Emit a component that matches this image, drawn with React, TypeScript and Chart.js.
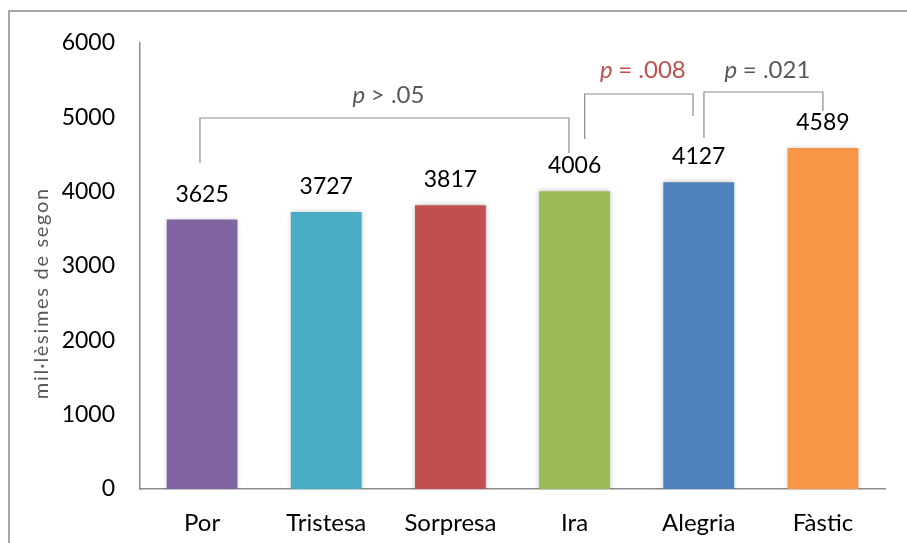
import React, { useEffect, useRef } from "react";
import { Chart, registerables } from "chart.js";

Chart.register(...registerables);

// Mean response time per emotion (milliseconds)
const categories = ["Por", "Tristesa", "Sorpresa", "Ira", "Alegria", "Fàstic"];
const timesMs = [3625, 3727, 3817, 4006, 4127, 4589];
const barColors = ["#8064A2", "#4BACC6", "#C0504D", "#9BBB59", "#4F81BD", "#F79646"];
const yMax = 6000;
const yStep = 1000;

// Pairwise comparison brackets (x in category positions, y in ms)
const bracketLabels = ["> .05", "= .008", "= .021"];
const bracketColors = ["#595959", "#C0504D", "#595959"];
const bracketStart = [-0.017, 3.081, 4.042];
const bracketEnd = [2.955, 3.954, 5.0];
const bracketStartFoot = [4386, 4709, 4722];
const bracketTop = [4991, 5314, 5341];
const bracketEndFoot = [4520, 5018, 5085];
const bracketLabelY = [5300, 5637, 5637];

const yTitle = "mil·lèsimes de segon";

const FONT = "Lato, 'Open Sans', sans-serif";
const AXIS_GREY = "#8c8c8c";

const overlayPlugin = {
  id: "overlay",
  beforeDatasetsDraw(chart: any) {
    const ctx = chart.ctx;
    ctx.save();
    ctx.shadowColor = "rgba(0,0,0,0.28)";
    ctx.shadowBlur = 5;
    ctx.shadowOffsetX = 0;
    ctx.shadowOffsetY = 0;
  },
  afterDatasetsDraw(chart: any) {
    chart.ctx.restore();
  },
  afterDraw(chart: any) {
    const ctx = chart.ctx;
    const x = chart.scales.x;
    const y = chart.scales.y;
    const area = chart.chartArea;
    const meta = chart.getDatasetMeta(0);

    ctx.save();
    // value labels above bars
    ctx.font = `23px ${FONT}`;
    ctx.fillStyle = "#000";
    ctx.textAlign = "center";
    ctx.textBaseline = "alphabetic";
    meta.data.forEach((bar: any, i: number) => {
      ctx.fillText(String(timesMs[i]), bar.x, bar.y - 18);
    });

    // comparison brackets
    ctx.strokeStyle = "#8c8c8c";
    ctx.lineWidth = 1.2;
    for (let i = 0; i < bracketLabels.length; i++) {
      const x1 = x.getPixelForValue(bracketStart[i]);
      const x2 = x.getPixelForValue(bracketEnd[i]);
      const yTop = y.getPixelForValue(bracketTop[i]);
      ctx.beginPath();
      ctx.moveTo(x1, y.getPixelForValue(bracketStartFoot[i]));
      ctx.lineTo(x1, yTop);
      ctx.lineTo(x2, yTop);
      ctx.lineTo(x2, y.getPixelForValue(bracketEndFoot[i]));
      ctx.stroke();

      // label: italic "p" followed by the comparison
      const ty = y.getPixelForValue(bracketLabelY[i]);
      const pFont = `italic 24px ${FONT}`;
      const restFont = `24px ${FONT}`;
      ctx.font = pFont;
      const wp = ctx.measureText("p ").width;
      ctx.font = restFont;
      const wr = ctx.measureText(bracketLabels[i]).width;
      const cx = (x1 + x2) / 2 + 4;
      const startX = cx - (wp + wr) / 2;
      ctx.fillStyle = bracketColors[i];
      ctx.textAlign = "left";
      ctx.textBaseline = "middle";
      ctx.font = pFont;
      ctx.fillText("p", startX, ty);
      ctx.font = restFont;
      ctx.fillText(bracketLabels[i], startX + wp, ty);
    }

    // axis title, spread to run along most of the axis
    ctx.font = `20px ${FONT}`;
    const natural = ctx.measureText(yTitle).width;
    const spacing = Math.max(0, (212 - natural) / yTitle.length);
    (ctx as any).letterSpacing = `${spacing}px`;
    ctx.fillStyle = "#595959";
    ctx.textAlign = "center";
    ctx.textBaseline = "middle";
    ctx.translate(32, (area.top + area.bottom) / 2 + 28);
    ctx.rotate(-Math.PI / 2);
    ctx.fillText(yTitle, spacing / 2, 0);
    ctx.restore();
  },
};

export default function App() {
  const canvasRef = useRef<HTMLCanvasElement | null>(null);

  useEffect(() => {
    const canvas = canvasRef.current;
    if (!canvas) return;
    const chart = new Chart(canvas, {
      type: "bar",
      data: {
        labels: categories,
        datasets: [
          {
            data: timesMs,
            backgroundColor: barColors,
            borderWidth: 0,
            categoryPercentage: 1,
            barPercentage: 0.57,
          },
        ],
      },
      options: {
        responsive: false,
        animation: false,
        devicePixelRatio: 1,
        layout: { padding: { top: 31, right: 22, left: 0, bottom: 0 } },
        plugins: {
          legend: { display: false },
          tooltip: { enabled: false },
        },
        scales: {
          x: {
            grid: { display: false, drawTicks: false },
            border: { display: true, color: AXIS_GREY, width: 1.5 },
            ticks: {
              color: "#000",
              font: { family: FONT, size: 24 },
              padding: 20,
              maxRotation: 0,
            },
            afterFit(scale: any) {
              scale.height = 54;
              scale.paddingLeft = 0;
              scale.paddingRight = 0;
            },
          },
          y: {
            min: 0,
            max: yMax,
            grid: { display: false, drawTicks: false },
            border: { display: true, color: AXIS_GREY, width: 1.5 },
            ticks: {
              stepSize: yStep,
              color: "#000",
              font: { family: FONT, size: 23 },
              padding: 25,
              callback: (v: any) => String(v),
            },
            afterFit(scale: any) {
              scale.width = 130;
              scale.paddingTop = 0;
              scale.paddingBottom = 0;
            },
          },
        },
      },
      plugins: [overlayPlugin],
    });
    return () => chart.destroy();
  }, []);

  return (
    <div style={{ position: "fixed", inset: 0, overflow: "hidden", background: "#fff" }}>
      <div
        style={{
          position: "absolute",
          left: 8,
          top: 10,
          width: 940,
          height: 580,
          border: "2px solid #a6a6a6",
        }}
      >
        <canvas ref={canvasRef} width={897} height={531} style={{ display: "block" }} />
      </div>
    </div>
  );
}
